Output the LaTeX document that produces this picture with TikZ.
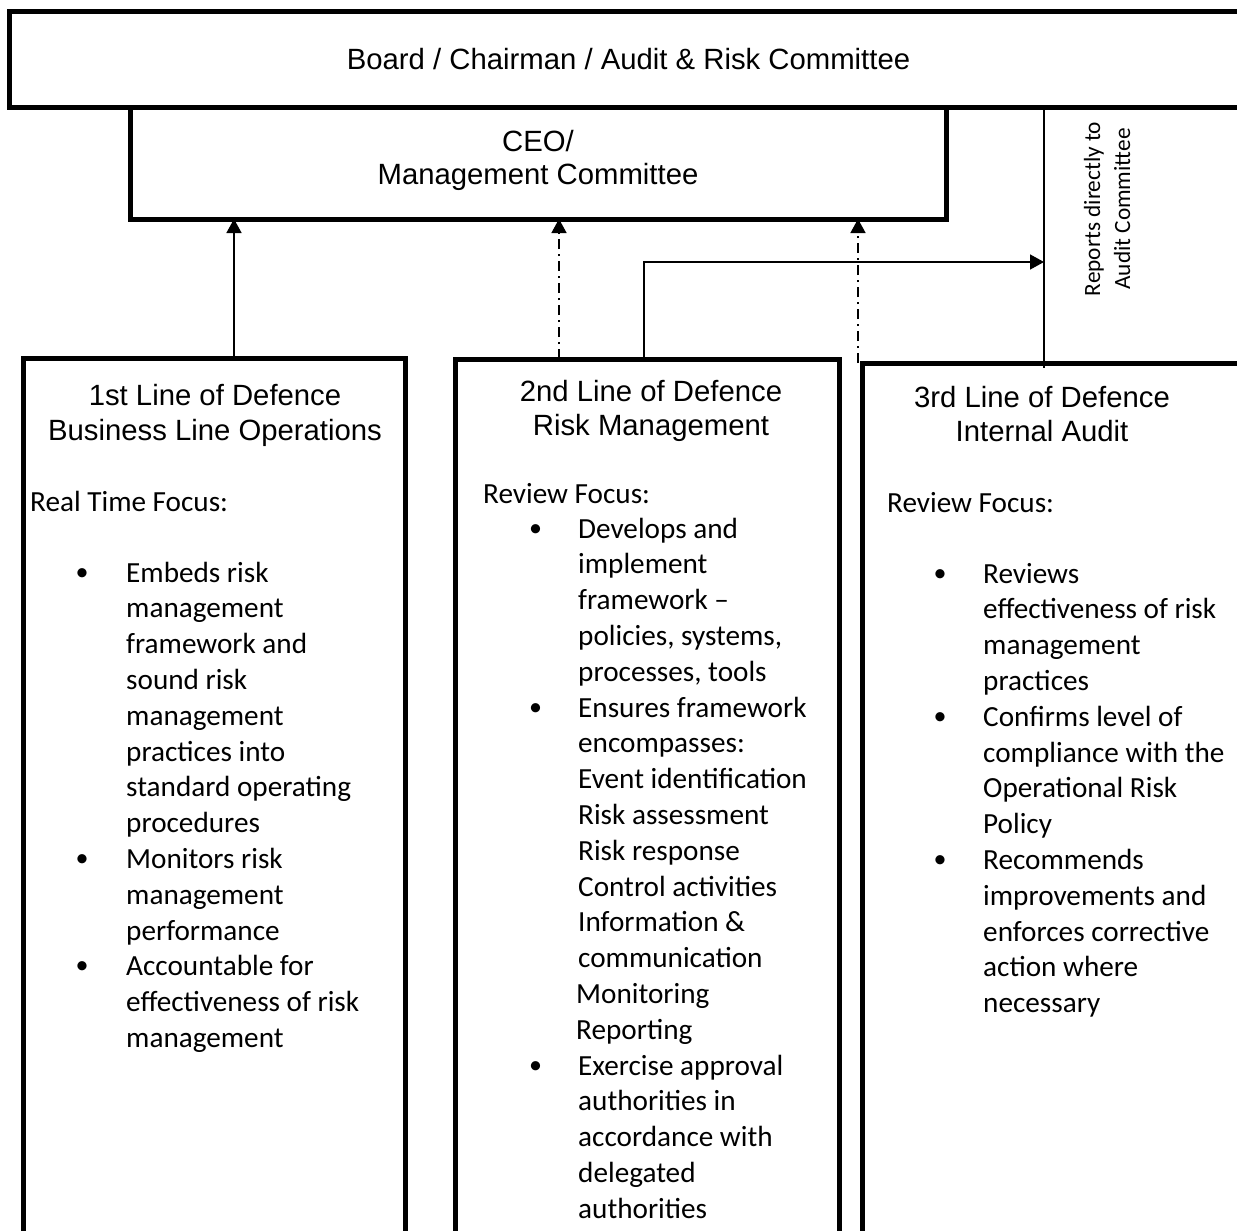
\documentclass[tikz,border=0pt]{standalone}
\usepackage{fontspec}
\setmainfont{Liberation Sans}
\newfontfamily\calib{Carlito}
\usetikzlibrary{arrows.meta}
\tikzset{
  box/.style={draw, line width=5pt, rectangle, inner sep=0pt, outer sep=0pt},
  head/.style={font=\fontsize{29.3}{35}\selectfont, inner sep=0pt, anchor=base},
  body/.style={font=\calib\fontsize{29.2}{35.8}\selectfont, inner sep=0pt, anchor=base west},
  bul/.style={font=\calib\fontsize{26}{35.8}\selectfont, inner sep=0pt, anchor=base},
  conn/.style={line width=1.5pt, -{Triangle[length=14pt,width=15pt]}},
  dd/.style={conn, dash pattern=on 10pt off 5pt on 2pt off 5pt},
  plain/.style={line width=1.5pt},
}
\begin{document}
\begin{tikzpicture}[x=1pt,y=-1pt]
\path[use as bounding box, clip] (0,0) rectangle (1237,1231);
\fill[white] (0,0) rectangle (1237,1231);

% boxes
\node[box, minimum width=816pt, minimum height=112pt] (ceo) at (538,163) {};
\node[box, minimum width=1241pt, minimum height=95pt] (board) at (629.5,59.5) {};
\node[box, minimum width=382pt, minimum height=902pt] (b1) at (214,809) {};
\node[box, minimum width=384pt, minimum height=902pt] (b2) at (647,810) {};
\node[box, minimum width=398pt, minimum height=898pt] (b3) at (1061,812) {};

% titles
\node[head] (boardt) at (628.5,70) {Board / Chairman / Audit \& Risk Committee};
\node[head] (ceot1) at (538,151) {CEO/};
\node[head] (ceot2) at (538,184) {Management Committee};
\node[head] (h1a) at (215,405) {1st Line of Defence};
\node[head] (h1b) at (215,440) {Business Line Operations};
\node[head] (h2a) at (651,401) {2nd Line of Defence};
\node[head] (h2b) at (651,435) {Risk Management};
\node[head] (h3a) at (1042,407) {3rd Line of Defence};
\node[head] (h3b) at (1042,441) {Internal Audit};

% connectors
\coordinate (s1) at ([xshift=20pt]b1.north);
\draw[conn] (s1) -- (s1 |- ceo.south);
\coordinate (s2) at ([xshift=-88pt]b2.north);
\draw[dd] (s2) -- (s2 |- ceo.south);
\coordinate (s3) at ([xshift=-4pt]b3.north west);
\draw[dd] (s3) -- (s3 |- ceo.south);
\coordinate (rb) at (1044,368);
\draw[plain] (board.south -| rb) -- (rb);
\coordinate (rj) at (1044,262);
\coordinate (s4) at ([xshift=-3pt]b2.north);
\draw[conn] (s4) |- (rj);
\node[rotate=90, align=center, inner sep=0pt, font=\calib\fontsize{23.3}{30}\selectfont] (rep) at (1107,209) {Reports directly to\\Audit Committee};

% box 1 body
\node[body] (f1) at (30,511) {Real Time Focus:};
\foreach \t [count=\i from 0] in {Embeds risk, management, framework and, sound risk, management, practices into, standard operating, procedures, Monitors risk, management, performance, Accountable for, effectiveness of risk, management}
  \node[body] (ta\i) at (126,{582+35.8*\i}) {\t};
\foreach \k in {0,8,11}
  \node[bul] (ba\k) at (82,{580+35.8*\k}) {•};

% box 2 body
\node[body] (f2) at (483,503) {Review Focus:};
\foreach \t [count=\i from 0] in {Develops and, implement, framework –, {policies, systems,}, {processes, tools}, Ensures framework, encompasses:, Event identification, Risk assessment, Risk response, Control activities, Information \&, communication}
  \node[body] (tb\i) at (578,{538+35.8*\i}) {\t};
\node[body] (tb13) at (576,{538+35.8*13}) {Monitoring};
\node[body] (tb14) at (576,{538+35.8*14}) {Reporting};
\foreach \t [count=\i from 15] in {Exercise approval, authorities in, accordance with, delegated, authorities}
  \node[body] (tb\i) at (578,{538+35.8*\i}) {\t};
\foreach \k in {0,5,15}
  \node[bul] (bb\k) at (535.5,{536+35.8*\k}) {•};

% box 3 body
\node[body] (f3) at (887,512) {Review Focus:};
\foreach \t [count=\i from 0] in {Reviews, effectiveness of risk, management, practices, Confirms level of, compliance with the, Operational Risk, Policy, Recommends, improvements and, enforces corrective, action where, necessary}
  \node[body] (tc\i) at (983,{583+35.8*\i}) {\t};
\foreach \k in {0,4,8}
  \node[bul] (bc\k) at (940,{581+35.8*\k}) {•};
\end{tikzpicture}
\end{document}
